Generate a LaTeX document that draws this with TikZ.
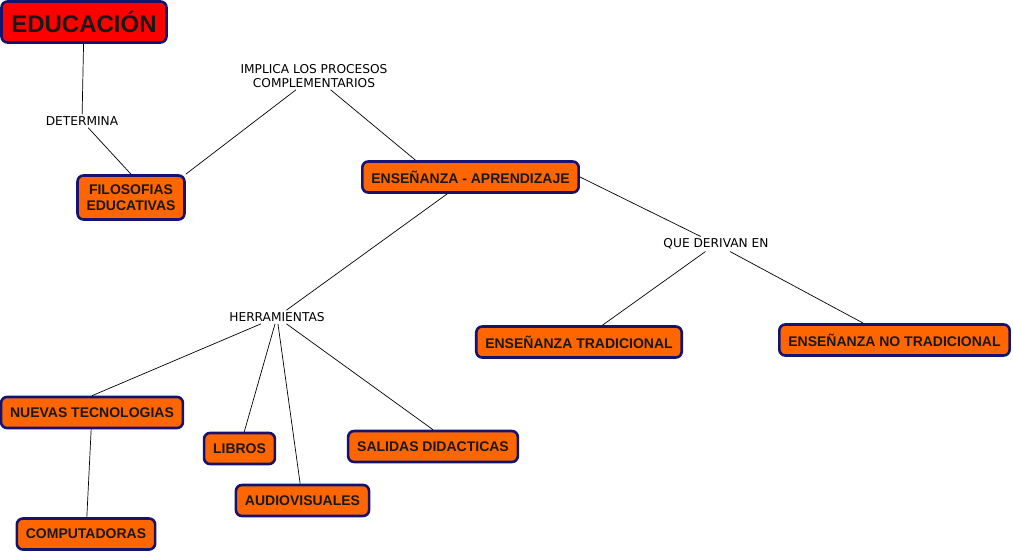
\documentclass[tikz,border=0pt]{standalone}
\usepackage{fontspec}
\setmainfont{DejaVu Sans}
\newfontfamily\boxfont{Liberation Sans}
\usetikzlibrary{positioning,calc}
\definecolor{borde}{HTML}{141470}
\definecolor{naranja}{HTML}{FF6600}
\definecolor{rojo}{HTML}{FF0000}
\begin{document}
\begin{tikzpicture}[x=1pt, y=-1pt,
    concepto/.style={draw=borde, fill=naranja, rounded corners=6pt, line width=2.6pt,
        font=\boxfont\bfseries\fontsize{14}{16}\selectfont, align=center,
        inner xsep=9pt, minimum height=31pt, text=black!90},
    enlace/.style={font=\fontsize{12.2}{14}\selectfont, align=center, inner sep=2pt},
    linea/.style={black, line width=0.7pt}
]
    \useasboundingbox[fill=white] (0,0) rectangle (1013,552);
    \node[concepto, fill=rojo, font=\boxfont\bfseries\fontsize{24}{26}\selectfont,
        minimum height=41pt, minimum width=165pt] (edu) at (84,22) {EDUCACIÓN};
    \node[concepto, minimum height=44pt] (filo) at (131,197.5) {FILOSOFIAS\\EDUCATIVAS};
    \node[concepto] (ensapr) at (470.5,177) {ENSEÑANZA - APRENDIZAJE};
    \node[concepto] (enstrad) at (579,342) {ENSEÑANZA TRADICIONAL};
    \node[concepto] (ensno) at (894.5,340) {ENSEÑANZA NO TRADICIONAL};
    \node[concepto] (nuevas) at (92,412.5) {NUEVAS TECNOLOGIAS};
    \node[concepto] (libros) at (239.5,448.5) {LIBROS};
    \node[concepto] (audio) at (302.5,500.5) {AUDIOVISUALES};
    \node[concepto] (salidas) at (433,446.5) {SALIDAS DIDACTICAS};
    \node[concepto] (compu) at (86,534) {COMPUTADORAS};

    % palabras de enlace
    \node[enlace] (determina) at (82,121) {DETERMINA};
    \node[enlace] (implica) at (314,76) {IMPLICA LOS PROCESOS\\COMPLEMENTARIOS};
    \node[enlace] (derivan) at (716,244) {QUE DERIVAN EN};
    \node[enlace] (herram) at (277,317) {HERRAMIENTAS};

    \draw[linea] (edu) -- (determina);
    \draw[linea] (determina) -- (filo.north);
    \draw[linea] (implica) -- (filo.north east);
    \draw[linea] (implica) -- ([xshift=-55pt]ensapr.north);
    \draw[linea] (ensapr) -- (herram);
    \draw[linea] (ensapr.east) -- (derivan);
    \draw[linea] (derivan) -- (enstrad);
    \draw[linea] (derivan) -- (ensno);
    \draw[linea] (herram) -- (nuevas.north);
    \draw[linea] (herram) -- (libros);
    \draw[linea] (herram) -- (audio);
    \draw[linea] (herram) -- (salidas.north);
    \draw[linea] (nuevas) -- (compu);
\end{tikzpicture}
\end{document}
